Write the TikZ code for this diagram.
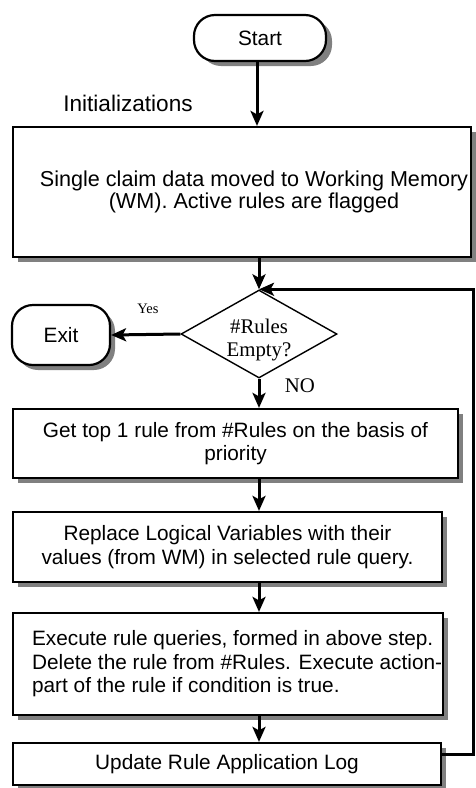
\documentclass[tikz,border=0pt]{standalone}
\usepackage{fontspec}
\setmainfont{Liberation Serif}
\setsansfont{Liberation Sans}
\usetikzlibrary{shapes.geometric, arrows.meta}

\begin{document}
\begin{tikzpicture}[x=1pt, y=-1pt,
  proc/.style={draw, line width=2.2pt, fill=white, inner sep=0pt,
    font=\sffamily\fontsize{20.8}{23.4}\selectfont, align=center},
  term/.style={proc, rounded corners=21pt},
  shadowfill/.style={fill={rgb,255:red,128;green,128;blue,128}, draw=none},
  bodytext/.style={inner sep=0pt, font=\sffamily\fontsize{20.8}{23.4}\selectfont},
  serifbig/.style={inner sep=0pt, font=\rmfamily\fontsize{20.8}{23.2}\selectfont, align=center},
  serifsmall/.style={inner sep=0pt, font=\rmfamily\fontsize{14.5}{16}\selectfont},
  arr/.style={line width=3pt, -{Stealth[length=15pt, width=13pt, inset=3.5pt]}},
]
\useasboundingbox (0,0) rectangle (475,788);

% grey drop shadows, offset 5 right and 5 down from each box
\fill[shadowfill, rounded corners=21pt] (200,20) rectangle (332,66);
\fill[shadowfill, rounded corners=21pt] (17,310) rectangle (115,370);
\fill[shadowfill] (18,132) rectangle (476,262);
\fill[shadowfill] (18,414) rectangle (463,483);
\fill[shadowfill] (18,517) rectangle (447,587);
\fill[shadowfill] (18,618) rectangle (448,720);
\fill[shadowfill] (18,748) rectangle (446,790);

% terminals
\node[term, minimum width=132pt, minimum height=46pt] (start) at (260,38) {Start};
\node[term, minimum width=98pt, minimum height=60pt] (exit) at (61,335) {Exit};

% heading above the first step
\node[inner sep=0pt, font=\sffamily\fontsize{22.6}{25}\selectfont] (init) at (128,103) {Initializations};

% first step
\node[proc, minimum width=458pt, minimum height=130pt] (load) at (242,192) {};
\node[inner sep=0pt, align=center, font=\sffamily\fontsize{21.6}{22}\selectfont] (loadtext) at (254,192)
  {Single claim data moved to Working Memory\\(WM). Active rules are flagged};

% decision
\node[diamond, draw, line width=1.4pt, fill=white, aspect=1.77, inner sep=0pt,
  minimum width=156pt, minimum height=88pt] (dec) at (259,334) {};
\node[serifbig] (dectext) at (259,340) {\#Rules\\Empty?};
\node[serifsmall] (yes) at (148,309) {Yes};
\node[serifbig] (no) at (300,386) {NO};

% loop body
\node[proc, minimum width=445pt, minimum height=69pt] (pick) at (235.5,443.5)
  {Get top 1 rule from \#Rules on the basis of\\priority};
\node[proc, minimum width=429pt, minimum height=70pt] (subst) at (227.5,547)
  {Replace Logical Variables with their\\values (from WM) in selected rule query.};
\node[proc, minimum width=430pt, minimum height=102pt] (exec) at (228,664) {};
\node[bodytext, align=left, anchor=west] (exectext) at ([xshift=20pt]exec.west)
  {Execute rule queries, formed in above step.\\Delete the rule from \#Rules. Execute action-\\part of the rule if condition is true.};
\node[proc, minimum width=428pt, minimum height=42pt] (logup) at (227,764)
  {Update Rule Application Log};

% connectors
\coordinate (loop) at (473,0);
\coordinate (spine) at (257,0);
\draw[arr] (start.south -| spine) -- (load.north -| spine);
\draw[arr] (load.south -| dec.north) -- (dec.north);
\draw[arr] (dec.west) -- (exit.east);
\draw[arr] (dec.south) -- (pick.north -| dec.south);
\draw[arr] (pick.south -| dec.south) -- (subst.north -| dec.south);
\draw[arr] (subst.south -| dec.south) -- (exec.north -| dec.south);
\draw[arr] (exec.south -| dec.south) -- (logup.north -| dec.south);
\draw[arr] ([yshift=10pt]logup.east) -| (loop |- dec.north) -- (dec.north);
\end{tikzpicture}
\end{document}
